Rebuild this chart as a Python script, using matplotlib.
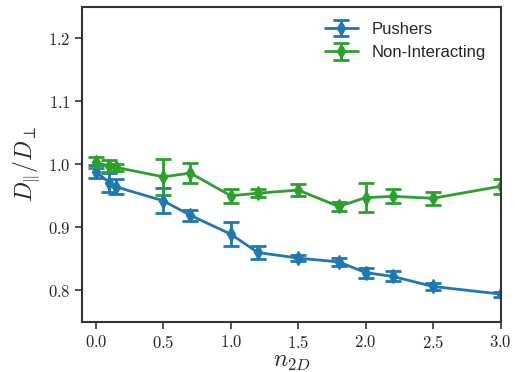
import numpy as np
import matplotlib
matplotlib.use("Agg")
import matplotlib.pyplot as plt
from matplotlib.ticker import FuncFormatter
import seaborn as sns

sns.set_style("ticks")
plt.rcParams["font.family"] = ["Liberation Sans", "DejaVu Sans"]
plt.rcParams["mathtext.fontset"] = "cm"

# density values
n2d = [0.0, 0.1, 0.15, 0.5, 0.7, 1.0, 1.2, 1.5, 1.8, 2.0, 2.2, 2.5, 3.0]

# diffusion anisotropy D_par / D_perp
pushers = [0.988, 0.971, 0.964, 0.942, 0.919, 0.889, 0.860, 0.851, 0.845, 0.828, 0.822, 0.806, 0.794]
pushers_err = [0.010, 0.015, 0.012, 0.020, 0.009, 0.019, 0.010, 0.005, 0.006, 0.008, 0.008, 0.005, 0.004]

non_int = [1.003, 0.997, 0.995, 0.980, 0.986, 0.950, 0.954, 0.959, 0.933, 0.947, 0.949, 0.946, 0.965]
non_int_err = [0.009, 0.010, 0.006, 0.029, 0.016, 0.011, 0.006, 0.009, 0.007, 0.023, 0.011, 0.010, 0.012]

fig, ax = plt.subplots(figsize=(5.15, 3.72), dpi=100)

ax.errorbar(n2d, pushers, yerr=pushers_err, color="#1f77b4", marker="d",
            markersize=7, lw=2, elinewidth=2, capsize=6, capthick=2, label="Pushers")
ax.errorbar(n2d, non_int, yerr=non_int_err, color="#2ca02c", marker="d",
            markersize=7, lw=2, elinewidth=2, capsize=6, capthick=2, label="Non-Interacting")

ax.set_xlim(-0.1, 3.0)
ax.set_ylim(0.75, 1.25)
ax.set_xticks([0.0, 0.5, 1.0, 1.5, 2.0, 2.5, 3.0])
ax.set_yticks([0.8, 0.9, 1.0, 1.1, 1.2])
fmt = FuncFormatter(lambda v, p: f"${v:.1f}$")
ax.xaxis.set_major_formatter(fmt)
ax.yaxis.set_major_formatter(fmt)
ax.tick_params(labelsize=12, length=5, width=1.2, color="#333333")
for s in ax.spines.values():
    s.set_color("#333333")
    s.set_linewidth(1.5)

ax.set_xlabel(r"$n_{2D}$", fontsize=17, labelpad=0)
ax.set_ylabel(r"$D_{\|}/D_{\perp}$", fontsize=17)
ax.legend(loc="upper right", frameon=False, fontsize=12)

fig.subplots_adjust(left=0.16, right=0.972, top=0.982, bottom=0.135)
fig.savefig("out.png", dpi=100)
